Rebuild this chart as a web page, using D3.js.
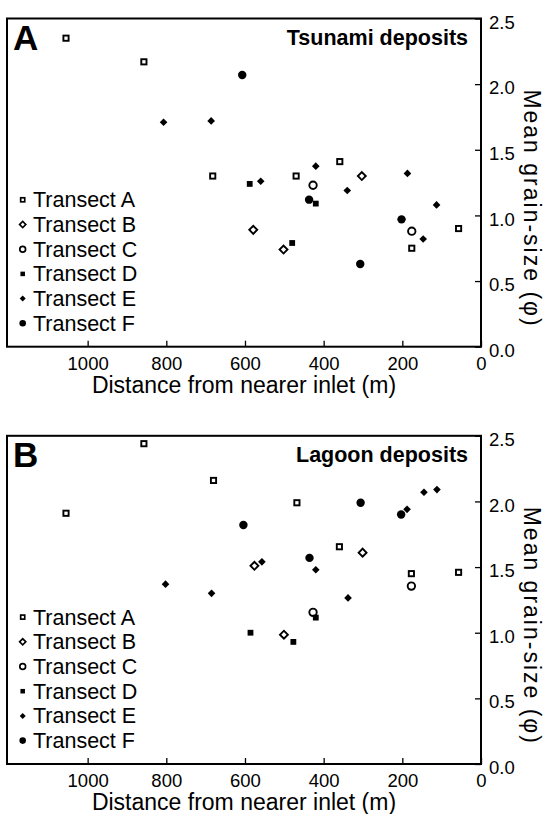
<!DOCTYPE html>
<html lang="en">
<head>
  <meta charset="UTF-8">
  <title>Grain size vs distance</title>
  <script src="https://cdn.jsdelivr.net/npm/d3@7"></script>
  <style>
    body { margin: 0; background: #fff; }
    svg { display: block; font-family: "Liberation Sans", Arial, Helvetica, sans-serif; }
  </style>
</head>
<body>
  <svg class="chart"></svg>
</body>
</html>
<script>
  var svgWidth = 545;
  var svgHeight = 814;

  var transects = ['Transect A', 'Transect B', 'Transect C', 'Transect D', 'Transect E', 'Transect F'];
  var xTicks = [0, 200, 400, 600, 800, 1000];
  var yTicks = [0, 0.5, 1.0, 1.5, 2.0, 2.5];

  // panel A - tsunami deposits, [distance (m), mean grain size (phi)]
  var tsunamiA = [[1055, 2.35], [857, 2.17], [682, 1.30], [470, 1.30], [359, 1.41], [176, 0.75], [57, 0.90]];
  var tsunamiB = [[579, 0.89], [502, 0.74], [303, 1.30]];
  var tsunamiC = [[427, 1.23], [176, 0.88]];
  var tsunamiD = [[588, 1.24], [480, 0.79], [420, 1.09]];
  var tsunamiE = [[807, 1.71], [686, 1.72], [560, 1.26], [420, 1.375], [340, 1.19], [187, 1.32], [147, 0.82], [113, 1.08]];
  var tsunamiF = [[607, 2.07], [437, 1.12], [202, 0.97], [307, 0.63]];

  // panel B - lagoon deposits
  var lagoonA = [[1055, 1.91], [857, 2.44], [680, 2.16], [468, 1.99], [360, 1.655], [177, 1.45], [57, 1.46]];
  var lagoonB = [[576, 1.51], [501, 0.985], [301, 1.61]];
  var lagoonC = [[427, 1.155], [177, 1.355]];
  var lagoonD = [[586, 1.0], [477, 0.93], [420, 1.115]];
  var lagoonE = [[802, 1.37], [685, 1.30], [557, 1.54], [420, 1.48], [338, 1.265], [188, 1.94], [145, 2.07], [112, 2.09]];
  var lagoonF = [[604, 1.82], [436, 1.57], [306, 1.99], [203, 1.90]];

  var margin = {top: 18.5, left: 7, right: 64};
  var plotWidth = svgWidth - margin.left - margin.right;   // 474
  var plotHeight = 328.2;
  var panelStep = 417.3;

  var xScale = d3.scaleLinear().domain([1205, 0]).range([0, plotWidth]);
  var yScale = d3.scaleLinear().domain([0, 2.5]).range([plotHeight, 0]);

  // marker look per transect: shape, filled or open, size
  var markerShape = ['square', 'diamond', 'circle', 'square', 'diamond', 'circle'];
  var markerFilled = [false, false, false, true, true, true];
  var markerSize = [5.2, 5.6, 3.7, 5.8, 5.4, 4.2];

  function drawMarker(sel, i, scale) {
    var s = markerSize[i] * scale;
    var m;
    if (markerShape[i] === 'circle') {
      m = sel.append('circle').attr('r', s);
    } else {
      m = sel.append('rect')
        .attr('x', -s / 2).attr('y', -s / 2)
        .attr('width', s).attr('height', s);
      if (markerShape[i] === 'diamond') m.attr('transform', 'rotate(45)');
    }
    if (markerFilled[i]) {
      m.attr('fill', '#000').attr('stroke', 'none');
    } else {
      m.attr('fill', '#fff').attr('stroke', '#000').attr('stroke-width', 1.9 * Math.min(1, scale + 0.1));
    }
  }

  var svg = d3.select('.chart')
    .attr('width', svgWidth)
    .attr('height', svgHeight);

  function drawPanel(index, letter, title, series) {
    var g = svg.append('g')
      .attr('transform', 'translate(' + margin.left + ',' + (margin.top + index * panelStep) + ')');

    var xAxis = d3.axisBottom(xScale).tickValues(xTicks).tickSize(-6).tickPadding(10).tickFormat(d3.format('d'));
    var yAxis = d3.axisRight(yScale).tickValues(yTicks).tickSize(-6).tickPadding(8).tickFormat(d3.format('.1f'));

    var gx = g.append('g')
      .attr('transform', 'translate(0,' + plotHeight + ')')
      .call(xAxis);
    var gy = g.append('g')
      .attr('transform', 'translate(' + plotWidth + ',0)')
      .call(yAxis);
    [gx, gy].forEach(function(a) {
      a.select('.domain').remove();
      a.selectAll('line').attr('stroke', '#000').attr('stroke-width', 1.3);
      a.selectAll('text').attr('fill', '#000').style('font-size', '18.5px');
      a.attr('font-family', null).attr('font-size', null);
    });
    gy.selectAll('text').attr('dy', '0.52em');

    g.append('rect')
      .attr('width', plotWidth)
      .attr('height', plotHeight)
      .attr('fill', 'none')
      .attr('stroke', '#000')
      .attr('stroke-width', 2);

    g.append('text')
      .attr('x', 6)
      .attr('y', 31.5)
      .style('font-size', '35px')
      .style('font-weight', 'bold')
      .text(letter);

    g.append('text')
      .attr('x', plotWidth - 13)
      .attr('y', 26.5)
      .attr('text-anchor', 'end')
      .style('font-size', '21.5px')
      .style('font-weight', 'bold')
      .text(title);

    g.append('text')
      .attr('x', plotWidth / 2)
      .attr('y', plotHeight + 46.5)
      .attr('text-anchor', 'middle')
      .style('font-size', '23px')
      .text('Distance from nearer inlet (m)');

    g.append('text')
      .attr('transform', 'translate(' + (plotWidth + 43) + ',' + 190 + ') rotate(90)')
      .attr('text-anchor', 'middle')
      .style('font-size', '23px')
      .style('letter-spacing', '2px')
      .text('Mean grain-size (\u03c6)');

    // points
    series.forEach(function(data, i) {
      var pts = g.append('g').attr('class', 'transect-' + i)
        .selectAll('g')
        .data(data)
        .enter()
        .append('g')
        .attr('transform', function(d) {
          return 'translate(' + xScale(d[0]) + ',' + yScale(d[1]) + ')';
        });
      pts.each(function() { drawMarker(d3.select(this), i, 1); });
    });

    // legend
    var legend = g.selectAll('.legend')
      .data(transects)
      .enter()
      .append('g')
      .attr('class', 'legend')
      .attr('transform', function(d, i) {
        return 'translate(0,' + (188.8 + i * 24.7) + ')';
      });
    legend.each(function(d, i) {
      var mk = d3.select(this).append('g').attr('transform', 'translate(15.7,-7.5)');
      drawMarker(mk, i, 0.78);
    });
    legend.append('text')
      .attr('x', 26)
      .style('font-size', '21.5px')
      .text(function(d) { return d; });
  }

  drawPanel(0, 'A', 'Tsunami deposits', [tsunamiA, tsunamiB, tsunamiC, tsunamiD, tsunamiE, tsunamiF]);
  drawPanel(1, 'B', 'Lagoon deposits', [lagoonA, lagoonB, lagoonC, lagoonD, lagoonE, lagoonF]);
</script>
